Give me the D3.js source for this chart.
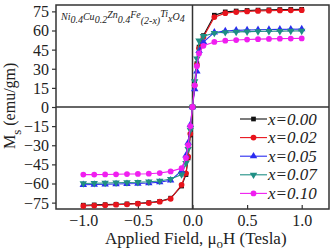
<!DOCTYPE html>
<html>
<head>
<meta charset="utf-8">
<script src="https://d3js.org/d3.v7.min.js"></script>
<style>
  body { margin: 0; background: #fff; }
  svg { display: block; }
  svg text { font-family: 'Liberation Serif', 'Times New Roman', Times, 'DejaVu Serif', serif !important; fill: #222; }
</style>
</head>
<body>
<script>
// applied field (Tesla)
var fields = [-1.0, -0.9, -0.8, -0.7, -0.6, -0.5, -0.4, -0.3, -0.2, -0.1, -0.06, -0.04, -0.02, 0,
              0.02, 0.04, 0.06, 0.1, 0.2, 0.3, 0.4, 0.5, 0.6, 0.7, 0.8, 0.9, 1.0];

var labels = ["x=0.00", "x=0.02", "x=0.05", "x=0.07", "x=0.10"];
var colors = ["#111111", "#e8141c", "#2a2cf0", "#1f8f84", "#f01ef0"];
var shapes = ["square", "circle", "triangle", "down", "circle"];

var ms000 = [-77, -76.8, -76.6, -76.3, -76, -75.6, -75, -74, -71.5, -62, -53, -40, -22, 0,
             18, 34, 47, 56, 72, 74.6, 75.3, 75.7, 76, 76.2, 76.4, 76.5, 76.6];
var ms002 = [-77.6, -77.3, -77, -76.6, -76.3, -75.8, -75.3, -74.3, -72, -61, -52, -39, -21, 0,
             17, 33, 46, 55, 70.5, 73.6, 74.5, 75, 75.3, 75.5, 75.7, 75.8, 75.9];
var ms005 = [-61, -60.8, -60.6, -60.4, -60.2, -60, -59.6, -59, -57.5, -50, -38, -28, -14, 0,
             14, 28, 44, 51, 58.5, 59.6, 60.1, 60.4, 60.6, 60.8, 60.9, 61, 61.1];
var ms007 = [-60, -59.8, -59.6, -59.4, -59.2, -59, -58.6, -58, -56.5, -53, -44, -33, -18, 0,
             20, 38, 52, 55.5, 58, 58.6, 58.9, 59.1, 59.3, 59.4, 59.5, 59.6, 59.7];
var ms010 = [-53, -53, -52.9, -52.8, -52.6, -52.5, -52.3, -51.8, -50.5, -48, -40, -30, -15, 0,
             17, 32, 42, 48, 51, 52, 52.5, 52.9, 53.2, 53.4, 53.6, 53.7, 53.8];

var series = [ms000, ms002, ms005, ms007, ms010];

var yTicks = [-75, -60, -45, -30, -15, 0, 15, 30, 45, 60, 75];
var xTicks = [-1.0, -0.5, 0.0, 0.5, 1.0];

var width = 335, height = 252;
var margin = {top: 5, right: 6, bottom: 43, left: 56};

var svg = d3.select("body").append("svg")
    .attr("width", width)
    .attr("height", height)
    .attr("font-family", "Liberation Serif");

var xScale = d3.scaleLinear()
    .domain([-1.25, 1.25])
    .range([margin.left, width - margin.right]);

var yScale = d3.scaleLinear()
    .domain([-80, 80])
    .range([height - margin.bottom, margin.top]);

// zero lines
svg.append("line")
    .attr("x1", xScale(0)).attr("x2", xScale(0))
    .attr("y1", yScale(-80)).attr("y2", yScale(80))
    .attr("stroke", "#333").attr("stroke-width", 1.5);
svg.append("line")
    .attr("x1", xScale(-1.25)).attr("x2", xScale(1.25))
    .attr("y1", yScale(0)).attr("y2", yScale(0))
    .attr("stroke", "#333").attr("stroke-width", 1.5);

// axes
var yAxis = d3.axisLeft(yScale)
    .tickValues(yTicks)
    .tickSize(4)
    .tickPadding(3)
    .tickFormat(d3.format("d"));
var gy = svg.append("g")
    .attr("transform", "translate(" + margin.left + ",0)")
    .call(yAxis);

var xAxis = d3.axisBottom(xScale)
    .tickValues(xTicks)
    .tickSize(-4)
    .tickPadding(6)
    .tickFormat(d3.format(".1f"));
var gx = svg.append("g")
    .attr("transform", "translate(0," + (height - margin.bottom) + ")")
    .call(xAxis);

[gx, gy].forEach(function(g) {
    g.attr("font-family", null).attr("font-size", null);
    g.select(".domain").remove();
    g.selectAll(".tick line").attr("stroke", "#333").attr("stroke-width", 1.2);
    g.selectAll(".tick text")
        .style("font-size", "16px")
        .attr("fill", "#222");
});
gy.selectAll(".tick text").attr("dy", "0.34em");

// frame
svg.append("rect")
    .attr("x", margin.left).attr("y", margin.top)
    .attr("width", width - margin.left - margin.right)
    .attr("height", height - margin.top - margin.bottom)
    .attr("fill", "none")
    .attr("stroke", "#333")
    .attr("stroke-width", 1.5);

var symbolFor = function(shape) {
    if (shape == "square") return d3.symbol().type(d3.symbolSquare).size(22);
    if (shape == "triangle") return d3.symbol().type(d3.symbolTriangle).size(24);
    if (shape == "down") return d3.symbol().type(d3.symbolTriangle).size(24);
    return d3.symbol().type(d3.symbolCircle).size(26);
};

var line = d3.line()
    .x(function(d) { return xScale(d[0]); })
    .y(function(d) { return yScale(d[1]); });

series.forEach(function(vals, i) {
    var pts = fields.map(function(f, j) { return [f, vals[j]]; });
    var g = svg.append("g");
    g.append("path")
        .datum(pts)
        .attr("d", line)
        .attr("fill", "none")
        .attr("stroke", colors[i])
        .attr("stroke-width", 1.1);
    g.selectAll("path.pt")
        .data(pts)
        .enter()
        .append("path")
        .attr("class", "pt")
        .attr("d", symbolFor(shapes[i]))
        .attr("transform", function(d) {
            var t = "translate(" + xScale(d[0]) + "," + yScale(d[1]) + ")";
            if (shapes[i] == "down") t += " rotate(180)";
            return t;
        })
        .attr("fill", colors[i]);
});

// legend
var legend = svg.append("g");
labels.forEach(function(lab, i) {
    var y = 119 + i * 18.6;
    legend.append("line")
        .attr("x1", 240).attr("x2", 267)
        .attr("y1", y).attr("y2", y)
        .attr("stroke", colors[i]).attr("stroke-width", 1.1);
    legend.append("path")
        .attr("d", symbolFor(shapes[i]))
        .attr("transform", "translate(253.5," + y + ")" + (shapes[i] == "down" ? " rotate(180)" : ""))
        .attr("fill", colors[i]);
    legend.append("text")
        .attr("x", 268).attr("y", y + 5.5)
        .style("font-size", "17px")
        .style("font-style", "italic")
        .text(lab);
});

// composition label
var comp = svg.append("text")
    .attr("x", 61).attr("y", 20)
    .style("font-size", "10px")
    .style("font-style", "italic");
var parts = [["Ni", 0], ["0.4", 3], ["Cu", -3], ["0.2", 3], ["Zn", -5], ["0.4", 5], ["Fe", -5],
             ["(2-x)", 6], ["Ti", -7], ["x", 5], ["O", -2], ["4", 2]];
parts.forEach(function(p) {
    comp.append("tspan").attr("dy", p[1]).text(p[0]);
});

// axis titles
var xt = svg.append("text")
    .attr("x", 105).attr("y", 244)
    .style("font-size", "17px");
xt.append("tspan").text("Applied Field, \u03bc");
xt.append("tspan").attr("dy", 4).style("font-size", "13px").text("o");
xt.append("tspan").attr("dy", -4).text("H (Tesla)");

var yt = svg.append("text")
    .attr("transform", "translate(15,149) rotate(-90)")
    .style("font-size", "16px");
yt.append("tspan").text("M");
yt.append("tspan").attr("dy", 6).style("font-size", "13px").text("s");
yt.append("tspan").attr("dy", -6).text(" (emu/gm)");
</script>
</body>
</html>
